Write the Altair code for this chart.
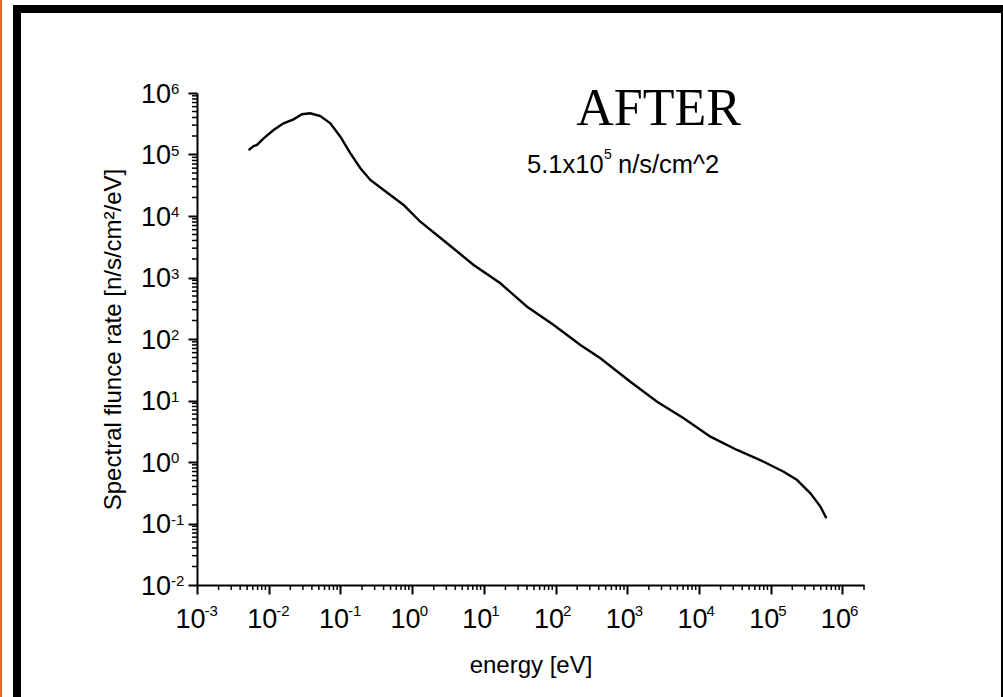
import altair as alt
import pandas as pd

# ---- data (energy in eV, fluence rate in n/s/cm^2/eV)
energy = [5.25e-3, 6.15e-3, 6.87e-3, 8.49e-3, 0.0117, 0.0161, 0.0222, 0.0291, 0.0380,
          0.0525, 0.0723, 0.0998, 0.137, 0.190, 0.261, 0.401, 0.760, 1.30, 3.07, 7.21,
          17.0, 40.1, 94.2, 222, 422, 1104, 2606, 6124, 14420, 33960, 79800, 151700,
          233300, 358100, 493200, 598400]
fluence = [1.18e5, 1.37e5, 1.43e5, 1.83e5, 2.50e5, 3.21e5, 3.73e5, 4.51e5, 4.68e5,
           4.23e5, 3.21e5, 1.95e5, 1.05e5, 5.97e4, 3.85e4, 2.65e4, 1.51e4, 8.07e3, 3.60e3,
           1.60e3, 805, 335, 169, 79.8, 48.5, 20.2, 9.55, 5.14, 2.58, 1.57, 1.01, 0.695,
           0.509, 0.310, 0.188, 0.122]

x_major = [1e-3, 1e-2, 1e-1, 1e0, 1e1, 1e2, 1e3, 1e4, 1e5, 1e6]
x_exp = ["-3", "-2", "-1", "0", "1", "2", "3", "4", "5", "6"]
y_major = [1e-2, 1e-1, 1e0, 1e1, 1e2, 1e3, 1e4, 1e5, 1e6]
y_exp = ["-2", "-1", "0", "1", "2", "3", "4", "5", "6"]
x_minor = [k * 10.0 ** n for n in range(-3, 6) for k in range(2, 10)] + [2e6]
y_minor = [k * 10.0 ** n for n in range(-2, 6) for k in range(2, 10)]

title_text = "AFTER"
note_base = "5.1x10"
note_exp = "5"
note_unit = "n/s/cm^2"
x_title = "energy [eV]"
y_title = "Spectral flunce rate [n/s/cm²/eV]"

W, H = 667, 492
PAD_L, PAD_T = 197, 93
FONT = "Liberation Sans"
BASE_SIZE = 27
EXP_SIZE = 15

xscale = alt.Scale(type="log", domain=[1e-3, 2e6], nice=False)
yscale = alt.Scale(type="log", domain=[1e-2, 1e6], nice=False)

common = dict(grid=False, domainColor="black", domainWidth=2, tickColor="black",
              tickWidth=2, tickSize=9, labels=False, titleFont=FONT, titleFontSize=24,
              titleFontWeight="normal", titleColor="black")

xaxis = alt.Axis(values=x_major, title=x_title, titleX=W / 2, titleY=87,
                 titleBaseline="alphabetic", **common)
yaxis = alt.Axis(values=y_major, title=y_title, titleX=-77, titleY=H / 2,
                 titleAngle=270, titleAlign="center", titleBaseline="alphabetic",
                 **common)

df = pd.DataFrame({"energy": energy, "fluence": fluence})

line = alt.Chart(df).mark_line(color="black", strokeWidth=2.4).encode(
    x=alt.X("energy:Q", scale=xscale, axis=xaxis),
    y=alt.Y("fluence:Q", scale=yscale, axis=yaxis),
)

xm = alt.Chart(pd.DataFrame({"energy": x_minor})).mark_rule(
    color="black", strokeWidth=1.5).encode(
    x=alt.X("energy:Q", scale=xscale, axis=xaxis),
    y=alt.value(H), y2=alt.value(H + 5),
)
ym = alt.Chart(pd.DataFrame({"fluence": y_minor})).mark_rule(
    color="black", strokeWidth=1.5).encode(
    y=alt.Y("fluence:Q", scale=yscale, axis=yaxis),
    x=alt.value(0), x2=alt.value(-5),
)

# tick labels: "10" plus a raised exponent
xlab = pd.DataFrame({"energy": x_major, "exp": x_exp})
ylab = pd.DataFrame({"fluence": y_major, "exp": y_exp})

x_base = alt.Chart(xlab).mark_text(
    text="10", font=FONT, fontSize=BASE_SIZE, color="black", align="right",
    baseline="alphabetic", dx=8.5).encode(
    x=alt.X("energy:Q", scale=xscale, axis=xaxis), y=alt.value(H + 43))
x_sup = alt.Chart(xlab).mark_text(
    font=FONT, fontSize=EXP_SIZE, color="black", align="left",
    baseline="alphabetic", dx=7.5).encode(
    x=alt.X("energy:Q", scale=xscale, axis=xaxis), y=alt.value(H + 31),
    text="exp:N")
y_base = alt.Chart(ylab).mark_text(
    text="10", font=FONT, fontSize=BASE_SIZE, color="black", align="right",
    baseline="alphabetic", dy=9.5).encode(
    y=alt.Y("fluence:Q", scale=yscale, axis=yaxis), x=alt.value(-26))
y_sup = alt.Chart(ylab).mark_text(
    font=FONT, fontSize=EXP_SIZE, color="black", align="left",
    baseline="alphabetic", dy=1).encode(
    y=alt.Y("fluence:Q", scale=yscale, axis=yaxis), x=alt.value(-26),
    text="exp:N")

one = pd.DataFrame({"a": [0]})
frame = alt.Chart(one).mark_rect(fillOpacity=0, stroke="black", strokeWidth=8).encode(
    x=alt.value(17 - PAD_L), x2=alt.value(1005 - PAD_L),
    y=alt.value(9 - PAD_T), y2=alt.value(712 - PAD_T),
)
orange = alt.Chart(one).mark_rect(color="#E2642C").encode(
    x=alt.value(-PAD_L), x2=alt.value(2 - PAD_L),
    y=alt.value(-PAD_T), y2=alt.value(697 - PAD_T),
)
after = alt.Chart(one).mark_text(
    text=title_text, font="Liberation Serif", fontSize=52, color="black",
    align="center", baseline="alphabetic").encode(
    x=alt.value(658.5 - PAD_L), y=alt.value(125 - PAD_T))
n1 = alt.Chart(one).mark_text(
    text=note_base, font=FONT, fontSize=25.5, color="black",
    align="left", baseline="alphabetic").encode(
    x=alt.value(527 - PAD_L), y=alt.value(173 - PAD_T))
n2 = alt.Chart(one).mark_text(
    text=note_exp, font=FONT, fontSize=14, color="black",
    align="left", baseline="alphabetic").encode(
    x=alt.value(604 - PAD_L), y=alt.value(159 - PAD_T))
n3 = alt.Chart(one).mark_text(
    text=note_unit, font=FONT, fontSize=25.5, color="black",
    align="left", baseline="alphabetic").encode(
    x=alt.value(618 - PAD_L), y=alt.value(173 - PAD_T))

chart = alt.layer(line, xm, ym, x_base, x_sup, y_base, y_sup, orange, frame,
                  after, n1, n2, n3).properties(
    width=W, height=H,
    autosize=alt.AutoSizeParams(type="none"),
    padding={"left": PAD_L, "top": PAD_T, "right": 1003 - PAD_L - W, "bottom": 697 - PAD_T - H},
    background="white",
).configure_view(strokeWidth=0)

chart.save("out.html", embed_options={"renderer": "svg", "actions": False})
